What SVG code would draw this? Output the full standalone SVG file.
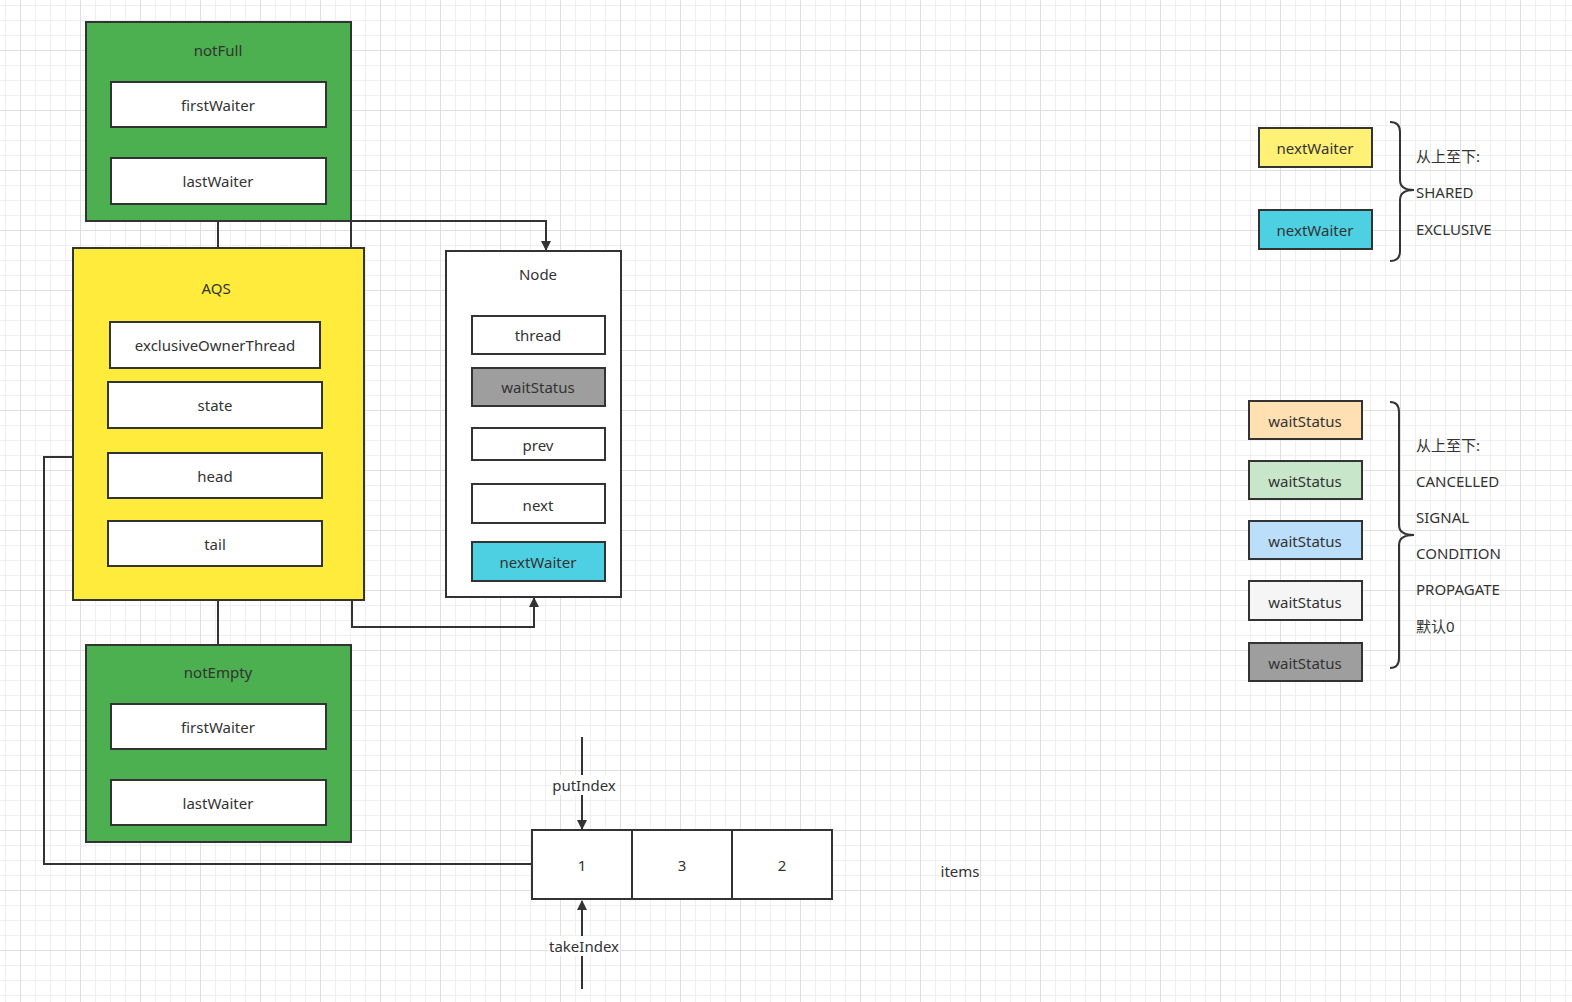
<svg xmlns="http://www.w3.org/2000/svg" width="1572" height="1002" viewBox="0 0 1572 1002">
  <defs>
    <!-- background grid: 15px minor cells, 60px major cells -->
    <pattern id="grid" x="20" y="50" width="60" height="60" patternUnits="userSpaceOnUse">
      <path d="M15.5 0V60M30.5 0V60M45.5 0V60M0 15.5H60M0 30.5H60M0 45.5H60" stroke="#efefef" stroke-width="1" fill="none"/>
      <path d="M0.5 0V60M0 0.5H60" stroke="#dfdfdf" stroke-width="1" fill="none"/>
    </pattern>
    <marker id="arrow" viewBox="0 0 10 10" refX="9" refY="5" markerWidth="10" markerHeight="10" markerUnits="userSpaceOnUse" orient="auto">
      <path d="M0 0L10 5L0 10Z" fill="#333"/>
    </marker>
    <style>
      text { font-family: "Noto Sans", "Noto Sans CJK SC", sans-serif; font-size: 15px; fill: #333; }
      .c { text-anchor: middle; dominant-baseline: central; }
      .l { dominant-baseline: central; }
      .box { stroke: #333; stroke-width: 2; }
      .white { fill: #fff; }
      .green { fill: #4caf50; }
      .yellow { fill: #ffeb3b; }
      .gray { fill: #9e9e9e; }
      .cyan { fill: #4dd0e1; }
      .wire { fill: none; stroke: #333; stroke-width: 2; }
      .lbl { fill: #fff; }
    </style>
  </defs>

  <rect width="1572" height="1002" fill="#fff"/>
  <rect width="1572" height="1002" fill="url(#grid)"/>

  <!-- connectors -->
  <g id="connectors">
    <path class="wire" d="M218 221V248"/>
    <path class="wire" d="M218 600V645"/>
    <path class="wire" d="M322 475H351V221H546V250" marker-end="url(#arrow)"/>
    <path class="wire" d="M322 543L352 544V627H534V598" marker-end="url(#arrow)"/>
    <path class="wire" d="M73 457H44V864H532"/>
    <path class="wire" d="M582 737V829" marker-end="url(#arrow)"/>
    <path class="wire" d="M582 989V901" marker-end="url(#arrow)"/>
    <rect class="lbl" x="551" y="775" width="66" height="20"/>
    <text class="c" x="584" y="785">putIndex</text>
    <rect class="lbl" x="548" y="936" width="72" height="20"/>
    <text class="c" x="584" y="946">takeIndex</text>
  </g>

  <!-- notFull condition -->
  <g id="notFull">
    <rect class="box green" x="86" y="22" width="265" height="199"/>
    <text class="c" x="218" y="50">notFull</text>
    <rect class="box white" x="111" y="82" width="215" height="45"/>
    <text class="c" x="218" y="105">firstWaiter</text>
    <rect class="box white" x="111" y="158" width="215" height="46"/>
    <text class="c" x="218" y="181">lastWaiter</text>
  </g>

  <!-- AQS -->
  <g id="aqs">
    <rect class="box yellow" x="73" y="248" width="291" height="352"/>
    <text class="c" x="216" y="288">AQS</text>
    <rect class="box white" x="110" y="322" width="210" height="46"/>
    <text class="c" x="215" y="345">exclusiveOwnerThread</text>
    <rect class="box white" x="108" y="382" width="214" height="46"/>
    <text class="c" x="215" y="405">state</text>
    <rect class="box white" x="108" y="453" width="214" height="45"/>
    <text class="c" x="215" y="476">head</text>
    <rect class="box white" x="108" y="521" width="214" height="45"/>
    <text class="c" x="215" y="544">tail</text>
  </g>

  <!-- wait queue node -->
  <g id="node">
    <rect class="box white" x="446" y="251" width="175" height="346"/>
    <text class="c" x="538" y="274">Node</text>
    <rect class="box white" x="472" y="316" width="133" height="38"/>
    <text class="c" x="538" y="335">thread</text>
    <rect class="box gray" x="472" y="368" width="133" height="38"/>
    <text class="c" x="538" y="387">waitStatus</text>
    <rect class="box white" x="472" y="428" width="133" height="32"/>
    <text class="c" x="538" y="445">prev</text>
    <rect class="box white" x="472" y="484" width="133" height="39"/>
    <text class="c" x="538" y="505">next</text>
    <rect class="box cyan" x="472" y="542" width="133" height="39"/>
    <text class="c" x="538" y="562">nextWaiter</text>
  </g>

  <!-- notEmpty condition -->
  <g id="notEmpty">
    <rect class="box green" x="86" y="645" width="265" height="197"/>
    <text class="c" x="218" y="672">notEmpty</text>
    <rect class="box white" x="111" y="704" width="215" height="45"/>
    <text class="c" x="218" y="727">firstWaiter</text>
    <rect class="box white" x="111" y="780" width="215" height="45"/>
    <text class="c" x="218" y="803">lastWaiter</text>
  </g>

  <!-- items array -->
  <g id="items">
    <rect class="box white" x="532" y="830" width="100" height="69"/>
    <text class="c" x="582" y="865">1</text>
    <rect class="box white" x="632" y="830" width="100" height="69"/>
    <text class="c" x="682" y="865">3</text>
    <rect class="box white" x="732" y="830" width="100" height="69"/>
    <text class="c" x="782" y="865">2</text>
    <text class="c" x="960" y="871">items</text>
  </g>

  <!-- nextWaiter legend -->
  <g id="legend-nextWaiter">
    <rect class="box" x="1259" y="128" width="113" height="39" fill="#fff176"/>
    <text class="c" x="1315" y="148">nextWaiter</text>
    <rect class="box cyan" x="1259" y="210" width="113" height="39"/>
    <text class="c" x="1315" y="230">nextWaiter</text>
    <path class="wire" d="M1390 122Q1400 122 1400 132V180Q1400 190 1414 190Q1400 190 1400 200V251Q1400 261 1390 261"/>
    <text class="l" x="1416" y="156">从上至下:</text>
    <text class="l" x="1416" y="192">SHARED</text>
    <text class="l" x="1416" y="229">EXCLUSIVE</text>
  </g>

  <!-- waitStatus legend -->
  <g id="legend-waitStatus">
    <rect class="box" x="1249" y="401" width="113" height="38" fill="#ffe0b2"/>
    <text class="c" x="1305" y="421">waitStatus</text>
    <rect class="box" x="1249" y="461" width="113" height="38" fill="#c8e6c9"/>
    <text class="c" x="1305" y="481">waitStatus</text>
    <rect class="box" x="1249" y="521" width="113" height="38" fill="#bbdefb"/>
    <text class="c" x="1305" y="541">waitStatus</text>
    <rect class="box" x="1249" y="581" width="113" height="39" fill="#f5f5f5"/>
    <text class="c" x="1305" y="602">waitStatus</text>
    <rect class="box gray" x="1249" y="643" width="113" height="38"/>
    <text class="c" x="1305" y="663">waitStatus</text>
    <path class="wire" d="M1390 402Q1399 402 1399 412V525Q1399 535 1414 535Q1399 535 1399 545V658Q1399 668 1390 668"/>
    <text class="l" x="1416" y="445">从上至下:</text>
    <text class="l" x="1416" y="481">CANCELLED</text>
    <text class="l" x="1416" y="517">SIGNAL</text>
    <text class="l" x="1416" y="553">CONDITION</text>
    <text class="l" x="1416" y="589">PROPAGATE</text>
    <text class="l" x="1416" y="626">默认0</text>
  </g>
</svg>
